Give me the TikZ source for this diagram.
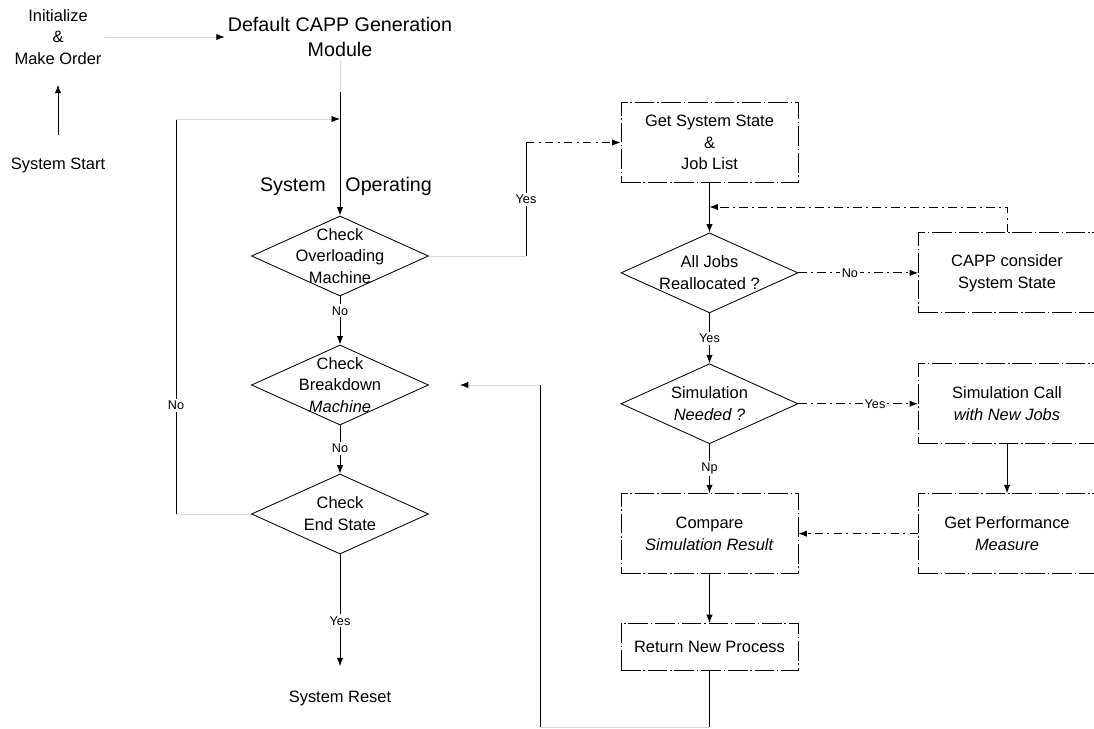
\documentclass[tikz,border=0pt]{standalone}
\usepackage{fontspec}
\setmainfont{Liberation Sans}
\usetikzlibrary{shapes.geometric, positioning, arrows.meta}
\tikzset{
>={Latex[length=6pt, width=4.5pt, color=black]}, % filled heads, black also on faint lines
x=0.025cm, y=-0.025cm, % one unit is one pixel of the sketch, y grows downwards
txt/.style={align=center, inner sep=2pt, font=\fontsize{11.7}{15.5}\selectfont}, % normal text
title/.style={align=center, inner sep=2pt, font=\fontsize{14}{17.8}\selectfont}, % big headings
lbl/.style={fill=white, inner sep=1.5pt, font=\fontsize{9}{10}\selectfont}, % yes / no on the edges
decision/.style={diamond, draw, line width=0.6pt, minimum width=4.425cm, minimum height=2cm, inner sep=0pt}, % text goes in as a centre label
process/.style={rectangle, draw, line width=0.6pt, dash pattern=on 14pt off 2pt on 1pt off 2pt, minimum width=4.425cm, minimum height=2cm, txt},
flow/.style={line width=0.6pt},
dashflow/.style={line width=0.6pt, dash pattern=on 6pt off 3pt on 1.5pt off 3pt},
faint/.style={line width=0.6pt, gray!30},
}

\begin{document}
\begin{tikzpicture}
    \useasboundingbox (0,0) rectangle (1094,729);

    % left column
    \node[txt] (init) at (58,37) {Initialize\\\&\\Make Order};
    \node[txt] (start) at (58,165) {System Start};
    \node[title] (default) at (340,37) {Default CAPP Generation\\Module};
    \node[title] (sysop) at (346,186) {System\quad Operating};
    \node[decision, label={[txt]center:{Check\\Overloading\\Machine}}] (chkover) at (340,256) {};
    \node[decision, label={[txt]center:{Check\\Breakdown\\\textit{Machine}}}] (chkbreak) at (340,385) {};
    \node[decision, label={[txt]center:{Check\\End State}}] (chkend) at (340,514) {};
    \node[txt] (reset) at (340,698) {System Reset};

    % right column
    \node[process] (getstate) at (709.5,142.5) {Get System State\\\&\\Job List};
    \node[decision, label={[txt]center:{All Jobs\\Reallocated ?}}, below=1.2375cm of getstate] (alljobs) {};
    \node[process, right=2.99cm of alljobs] (cappcons) {CAPP consider\\System State};
    \node[decision, label={[txt]center:{Simulation\\\textit{Needed ?}}}, below=1.25cm of alljobs] (simneed) {};
    \node[process, right=2.99cm of simneed] (simcall) {Simulation Call\\\textit{with New Jobs}};
    \node[process, below=1.225cm of simneed] (compare) {Compare\\\textit{Simulation Result}};
    \node[process, right=2.99cm of compare] (getperf) {Get Performance\\\textit{Measure}};
    \node[process, minimum height=1.175cm, below=1.225cm of compare] (retnew) {Return New Process};

    \coordinate (optop) at (340,92);
    \coordinate (loopbot) at (176,514);
    \coordinate (looptop) at (176,119);
    \coordinate (loopjoin) at (340,119);
    \coordinate (yesbot) at (526,256);
    \coordinate (yestop) at (526,142.5);
    \coordinate (fbjoin) at (709.5,207);
    \coordinate (retbot) at (709.5,727);
    \coordinate (retcorner) at (540,727);
    \coordinate (retleft) at (540,385);

    \draw[flow, ->, shorten <=14pt, shorten >=12pt] (start) -- (init);
    \draw[faint, ->] (init) -- (default);
    \draw[faint] (default) -- (optop);
    \draw[flow, ->] (optop) -- (chkover);
    \draw[flow, ->] (chkover) -- node[lbl, pos=0.3]{No} (chkbreak);
    \draw[flow, ->] (chkbreak) -- node[lbl, pos=0.47]{No} (chkend);
    \draw[flow, ->, shorten >=15pt] (chkend) -- node[lbl, pos=0.5]{Yes} (reset);
    \draw[faint] (chkend) -- (loopbot);
    \draw[flow] (loopbot) -- node[lbl, pos=0.275]{No} (looptop);
    \draw[faint, ->] (looptop) -- (loopjoin);

    \draw[faint] (chkover) -- (yesbot);
    \draw[flow] (yesbot) -- node[lbl]{Yes} (yestop);
    \draw[dashflow, ->] (yestop) -- (getstate);

    \draw[flow, ->] (getstate) -- (alljobs);
    \draw[dashflow, ->] (cappcons.north) |- (fbjoin);
    \draw[dashflow, ->] (alljobs) -- node[lbl, pos=0.43]{No} (cappcons);
    \draw[flow, ->] (alljobs) -- node[lbl]{Yes} (simneed);
    \draw[dashflow, ->] (simneed) -- node[lbl, pos=0.64]{Yes} (simcall);
    \draw[flow, ->] (simneed) -- node[lbl]{Np} (compare);
    \draw[flow, ->] (simcall) -- (getperf);
    \draw[dashflow, ->] (getperf) -- (compare);
    \draw[flow, ->] (compare) -- (retnew);
    \draw[flow] (retnew) -- (retbot);
    \draw[faint] (retbot) -- (retcorner);
    \draw[flow] (retcorner) -- (retleft);
    \draw[faint, ->, shorten >=22pt] (retleft) -- (chkbreak.east);
\end{tikzpicture}
\end{document}
